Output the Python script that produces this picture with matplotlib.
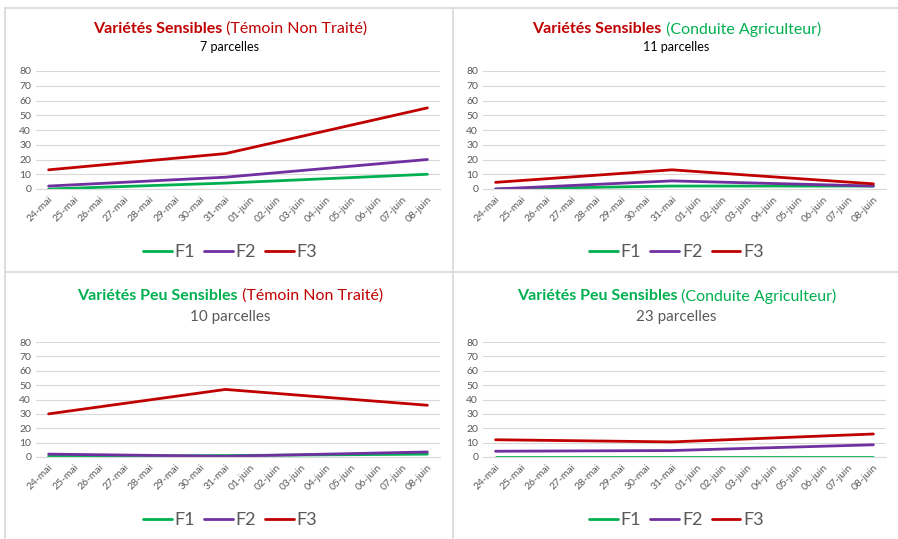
import matplotlib
matplotlib.use("Agg")
import matplotlib.pyplot as plt
from matplotlib.lines import Line2D

plt.rcParams['font.family'] = ['Lato', 'DejaVu Sans']

# categories on the x axis
dates = ['24-mai', '25-mai', '26-mai', '27-mai', '28-mai', '29-mai', '30-mai', '31-mai',
         '01-juin', '02-juin', '03-juin', '04-juin', '05-juin', '06-juin', '07-juin', '08-juin']
# observations were made on 24-mai, 31-mai and 08-juin only
obs_dates = ['24-mai', '31-mai', '08-juin']

# Variétés Sensibles - Témoin Non Traité
vs_tnt_f1 = [0, 4, 10]
vs_tnt_f2 = [2, 8, 20]
vs_tnt_f3 = [13, 24, 55]
# Variétés Sensibles - Conduite Agriculteur
vs_ca_f1 = [0, 2, 2]
vs_ca_f2 = [0, 5.5, 2]
vs_ca_f3 = [4.5, 13, 3.5]
# Variétés Peu Sensibles - Témoin Non Traité
vps_tnt_f1 = [0.5, 1, 2]
vps_tnt_f2 = [2, 0.5, 3.5]
vps_tnt_f3 = [30, 47, 36]
# Variétés Peu Sensibles - Conduite Agriculteur
vps_ca_f1 = [0, 0, 0]
vps_ca_f2 = [4, 4.5, 8.5]
vps_ca_f3 = [12, 10.5, 16]

RED = '#C00000'
GREEN = '#00B050'
PURPLE = '#7030A0'
GRID = '#D9D9D9'
TXT = '#595959'

W, H = 898, 539
fig = plt.figure(figsize=(W / 100, H / 100), dpi=100)
fig.patch.set_facecolor('white')
renderer = fig.canvas.get_renderer()


def px(x, y):
    return x / W, 1 - y / H


def title(cx, cy, parts, size):
    texts = []
    for s, color, weight in parts:
        t = fig.text(0, 1 - cy / H, s, color=color, fontsize=size, fontweight=weight,
                     ha='left', va='center')
        texts.append(t)
    widths = [t.get_window_extent(renderer).width for t in texts]
    x = cx - sum(widths) / 2
    for t, w in zip(texts, widths):
        t.set_x(x / W)
        x += w


def panel(left, top, right, bottom, f1, f2, f3, head, sub, sub_size, sub_color, title_y, sub_y, leg_y):
    ax = fig.add_axes([left / W, 1 - bottom / H, (right - left) / W, (bottom - top) / H])
    xi = [dates.index(d) for d in obs_dates]
    ax.plot(xi, f1, color=GREEN, lw=2, label='F1', solid_capstyle='round')
    ax.plot(xi, f2, color=PURPLE, lw=2, label='F2', solid_capstyle='round')
    ax.plot(xi, f3, color=RED, lw=2, label='F3', solid_capstyle='round')
    ax.set_xlim(-0.5, len(dates) - 0.5)
    ax.set_ylim(0, 80)
    ax.set_yticks(range(0, 81, 10))
    ax.set_xticks(range(len(dates)))
    ax.set_xticklabels(dates, rotation=45, ha='right', rotation_mode='anchor')
    ax.tick_params(axis='both', length=0, labelsize=7.5, labelcolor=TXT)
    ax.tick_params(axis='x', pad=4)
    ax.grid(axis='y', color=GRID, lw=0.8)
    ax.set_axisbelow(True)
    for s in ['top', 'left', 'right']:
        ax.spines[s].set_visible(False)
    ax.spines['bottom'].set_color(GRID)
    cx = (left + right) / 2 - 8
    title(cx, title_y, head, 11.5)
    fig.text(cx / W, 1 - sub_y / H, sub, color=sub_color, fontsize=sub_size,
             ha='center', va='center')
    ax.legend(loc='center', bbox_to_anchor=px(cx, leg_y), bbox_transform=fig.transFigure,
              ncol=3, frameon=False, fontsize=13, handlelength=1.6, columnspacing=0.5,
              handletextpad=0.15, labelcolor=TXT)
    return ax


panel(36, 71, 440, 189, vs_tnt_f1, vs_tnt_f2, vs_tnt_f3,
      [('Variétés Sensibles', RED, 'bold'), (' (Témoin Non Traité)', RED, 'normal')],
      '7 parcelles', 9, 'black', 29, 47, 252)
panel(483, 71, 886, 189, vs_ca_f1, vs_ca_f2, vs_ca_f3,
      [('Variétés Sensibles', RED, 'bold'), (' (Conduite Agriculteur)', GREEN, 'normal')],
      '11 parcelles', 9, 'black', 29, 47, 252)
panel(36, 342, 440, 457, vps_tnt_f1, vps_tnt_f2, vps_tnt_f3,
      [('Variétés Peu Sensibles', GREEN, 'bold'), (' (Témoin Non Traité)', RED, 'normal')],
      '10 parcelles', 11, TXT, 296, 317, 520)
panel(483, 342, 886, 457, vps_ca_f1, vps_ca_f2, vps_ca_f3,
      [('Variétés Peu Sensibles', GREEN, 'bold'), (' (Conduite Agriculteur)', GREEN, 'normal')],
      '23 parcelles', 11, TXT, 296, 317, 520)

# panel frames
for xs, ys in [([5, 898], [8, 8]), ([5, 898], [272, 272]), ([5, 5], [8, 539]),
               ([453, 453], [8, 539])]:
    fig.add_artist(Line2D([x / W for x in xs], [1 - y / H for y in ys],
                          color=GRID, lw=1.2, transform=fig.transFigure))

fig.savefig('out.png', dpi=100)
